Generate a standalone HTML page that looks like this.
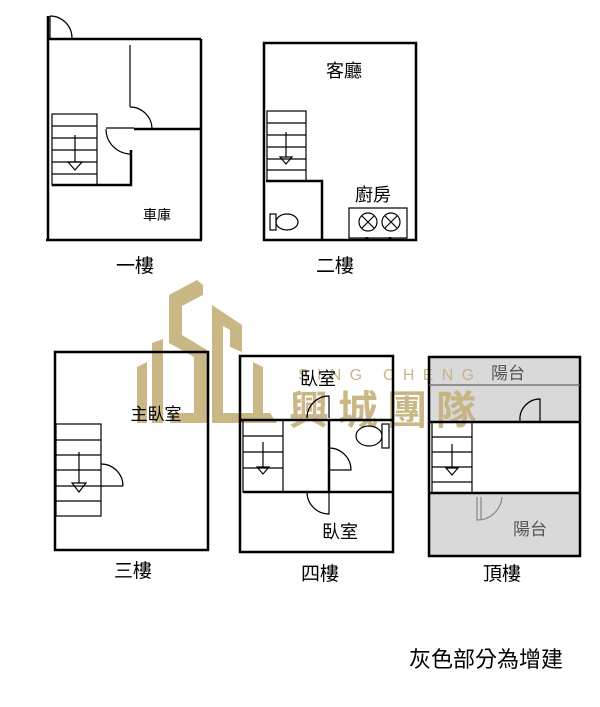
<!DOCTYPE html>
<html><head><meta charset="utf-8"><style>
html,body{margin:0;padding:0;background:#fff}
svg{display:block}
text{font-family:"Liberation Sans","Noto Sans CJK TC",sans-serif}
</style></head><body>
<svg width="600" height="707" viewBox="0 0 600 707" xmlns="http://www.w3.org/2000/svg">
<!-- gray fills first -->
<rect x="429" y="357" width="151" height="199" fill="#d9d9d9"/>
<rect x="430" y="422" width="150" height="71" fill="#fff"/>
<!-- Logo -->
<g fill="#c4b07a" opacity="0.9">
<polygon points="137,367 147,362 147,423 137,423"/>
<polygon points="152,343 163,339 163,423 152,423"/>
<polygon points="169,295 197,280 203,285 203,295 182,306 182,335 207,350 207,423 170,423 170,413 194,413 194,357 169,343"/>
<polygon points="212,305 242,325 242,352 230,347 230,330 223,326 223,413 270,413 277,423 212,423"/>
<polygon points="253,362 263,367 263,413 253,413"/>
<text x="298" y="380" font-size="16" letter-spacing="8.3">SING CHENG</text>
<text x="289" y="424" font-size="40" letter-spacing="9" font-weight="bold">興城團隊</text>
</g>
<g fill="none" stroke="#000" stroke-width="2.5">
<polyline points="48,16 48,240"/>
<line x1="46" y1="240" x2="202" y2="240"/>
<line x1="201" y1="39" x2="201" y2="240"/>
<line x1="48" y1="39" x2="201" y2="39"/>
<line x1="134" y1="129" x2="201" y2="129"/>
<polyline points="52,185 131,185 131,150"/>
</g>
<g fill="none" stroke="#000" stroke-width="1.2">
<path d="M50,16 A22,22 0 0 1 72,38"/>
<line x1="50" y1="16" x2="50" y2="39"/>
<line x1="130" y1="45" x2="130" y2="107"/>
<path d="M130,107 A22,22 0 0 1 152,129"/>
<line x1="106" y1="128" x2="134" y2="128"/>
<path d="M106,129 A25,25 0 0 0 131,154"/>
<rect x="52" y="114" width="45" height="71"/>
<line x1="52" y1="126" x2="97" y2="126"/><line x1="52" y1="138" x2="97" y2="138"/><line x1="52" y1="150" x2="97" y2="150"/><line x1="52" y1="162" x2="97" y2="162"/><line x1="52" y1="174" x2="97" y2="174"/>
<line x1="75" y1="135" x2="75" y2="162"/>
<polygon points="68,162 82,162 75,170"/>
</g>
<text x="157" y="220" font-size="14" text-anchor="middle">車庫</text>
<text x="135" y="272" font-size="19" text-anchor="middle">一樓</text>

<g fill="none" stroke="#000" stroke-width="2.5">
<rect x="264" y="43" width="152" height="197"/>
<polyline points="266,181 322,181 322,240"/>
</g>
<g fill="none" stroke="#000" stroke-width="1.2">
<rect x="267" y="111" width="39" height="70"/>
<line x1="267" y1="123" x2="306" y2="123"/><line x1="267" y1="135" x2="306" y2="135"/><line x1="267" y1="147" x2="306" y2="147"/><line x1="267" y1="159" x2="306" y2="159"/><line x1="267" y1="170" x2="306" y2="170"/>
<line x1="286" y1="132" x2="286" y2="157"/>
<polygon points="280,157 292,157 286,164"/>
<rect x="270" y="214" width="6" height="16"/>
<ellipse cx="287" cy="222" rx="11" ry="8"/>
<rect x="349" y="208" width="58" height="30"/>
<circle cx="368" cy="222" r="9"/><circle cx="391" cy="222" r="9"/>
<path d="M362,216 L374,228 M374,216 L362,228 M385,216 L397,228 M397,216 L385,228"/>
</g>
<circle cx="367" cy="239" r="2"/><circle cx="390" cy="239" r="2"/>
<text x="344" y="77" font-size="18" text-anchor="middle">客廳</text>
<text x="373" y="201" font-size="18" text-anchor="middle">廚房</text>
<text x="335" y="272" font-size="19" text-anchor="middle">二樓</text>

<g fill="none" stroke="#000" stroke-width="2.5">
<rect x="55" y="352" width="153" height="198"/>
</g>
<g fill="none" stroke="#000" stroke-width="1.2">
<rect x="56" y="424" width="45" height="92"/>
<line x1="56" y1="440" x2="101" y2="440"/><line x1="56" y1="455" x2="101" y2="455"/><line x1="56" y1="470" x2="101" y2="470"/><line x1="56" y1="486" x2="101" y2="486"/><line x1="56" y1="501" x2="101" y2="501"/>
<line x1="79" y1="452" x2="79" y2="483"/>
<polygon points="72,483 86,483 79,492"/>
<path d="M101,464 A22,22 0 0 1 123,486"/>
<line x1="101" y1="486" x2="123" y2="486"/>
</g>
<text x="156" y="420" font-size="17" text-anchor="middle">主臥室</text>
<text x="133" y="577" font-size="19" text-anchor="middle">三樓</text>

<g fill="none" stroke="#000" stroke-width="2.5">
<rect x="240" y="356" width="153" height="196"/>
<line x1="240" y1="420" x2="393" y2="420"/>
<line x1="243" y1="492" x2="393" y2="492"/>
<line x1="329" y1="420" x2="329" y2="492"/>
</g>
<g fill="none" stroke="#000" stroke-width="1.2">
<rect x="243" y="420" width="40" height="72"/>
<line x1="243" y1="436" x2="283" y2="436"/><line x1="243" y1="452" x2="283" y2="452"/><line x1="243" y1="468" x2="283" y2="468"/>
<line x1="263" y1="442" x2="263" y2="467"/>
<polygon points="257,467 269,467 263,474"/>
<path d="M307,418 A22,22 0 0 1 329,396 L329,418"/>
<path d="M307,492 A22,22 0 0 0 329,514 L329,492"/>
<path d="M329,448 A22,22 0 0 1 351,470 L329,470"/>
<rect x="382" y="424" width="7" height="24"/>
<ellipse cx="369" cy="436" rx="13" ry="10"/>
</g>
<text x="318" y="385" font-size="18" text-anchor="middle">臥室</text>
<text x="340" y="538" font-size="18" text-anchor="middle">臥室</text>
<text x="320" y="580" font-size="19" text-anchor="middle">四樓</text>

<g fill="none" stroke="#000" stroke-width="2.5">
<rect x="429" y="357" width="151" height="199"/>
<line x1="429" y1="422" x2="580" y2="422"/>
<line x1="429" y1="493" x2="580" y2="493"/>
</g>
<g fill="none" stroke-width="1.2">
<line x1="429" y1="385" x2="580" y2="385" stroke="#666"/>
<path d="M520,421 A20,20 0 0 1 540,399 L540,421" stroke="#000"/>
<path d="M477,497 L477,520 A25,25 0 0 0 502,497" stroke="#888"/>
<line x1="481" y1="497" x2="481" y2="520" stroke="#888"/>
<g stroke="#000">
<rect x="432" y="422" width="40" height="71"/>
<line x1="432" y1="437" x2="472" y2="437"/><line x1="432" y1="452" x2="472" y2="452"/><line x1="432" y1="467" x2="472" y2="467"/><line x1="432" y1="482" x2="472" y2="482"/>
<line x1="452" y1="444" x2="452" y2="468"/>
<polygon points="446,468 458,468 452,475"/>
</g>
</g>
<text x="508" y="379" font-size="17" fill="#555" text-anchor="middle">陽台</text>
<text x="530" y="535" font-size="17" fill="#555" text-anchor="middle">陽台</text>
<text x="502" y="580" font-size="19" text-anchor="middle">頂樓</text>

<text x="486" y="667" font-size="22" text-anchor="middle">灰色部分為增建</text>
</svg>
</body></html>
